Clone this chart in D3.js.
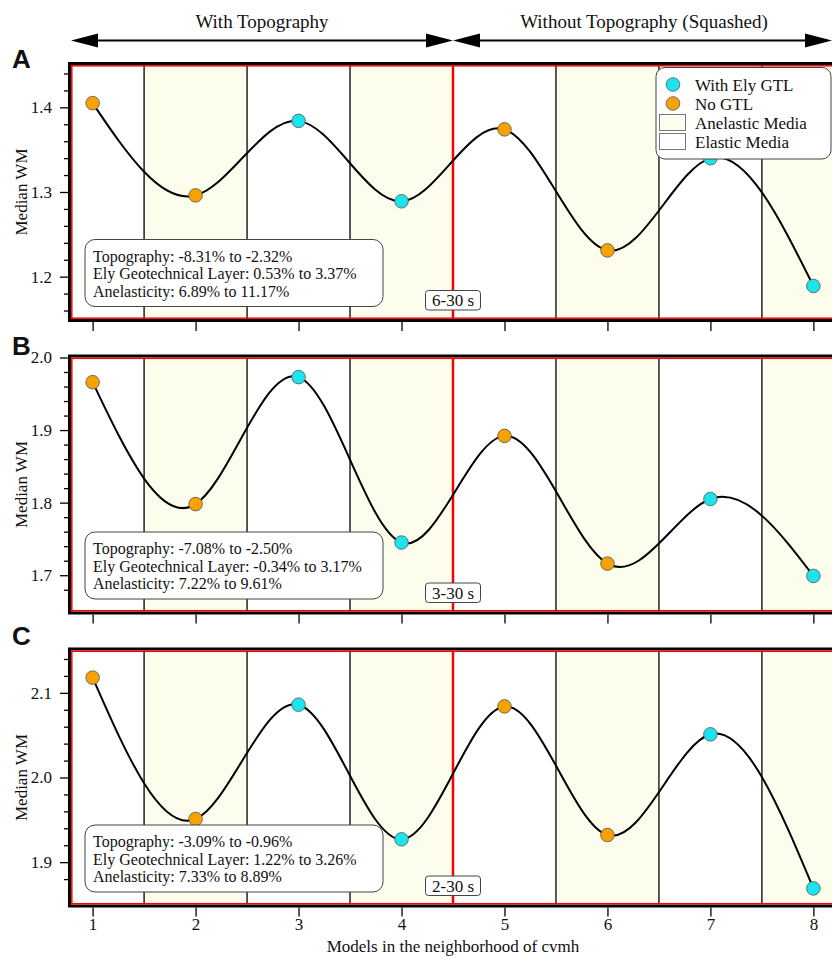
<!DOCTYPE html>
<html>
<head>
<meta charset="utf-8">
<script src="https://cdn.jsdelivr.net/npm/d3@7"></script>
<style>
body { margin: 0; background: #fff; }
svg { display: block; }
text { font-family: "Liberation Serif", "Times New Roman", serif; fill: #111; }
</style>
</head>
<body>
<div id="chart"></div>
<script>
// data
const models = [1, 2, 3, 4, 5, 6, 7, 8];
const gtlGroup = ["No GTL", "No GTL", "With Ely GTL", "With Ely GTL", "No GTL", "No GTL", "With Ely GTL", "With Ely GTL"];
const wmA = [1.405, 1.296, 1.384, 1.289, 1.374, 1.231, 1.340, 1.189];
const wmB = [1.966, 1.798, 1.973, 1.745, 1.892, 1.716, 1.805, 1.699];
const wmC = [2.118, 1.951, 2.086, 1.927, 2.084, 1.932, 2.051, 1.869];
const panelLetters = ["A", "B", "C"];
const periodLabels = ["6-30 s", "3-30 s", "2-30 s"];
const yDomains = [[1.15, 1.45], [1.65, 2.0], [1.85, 2.15]];
const yMajorTicks = [[1.2, 1.3, 1.4], [1.7, 1.8, 1.9, 2.0], [1.9, 2.0, 2.1]];
const topoText = ["Topography: -8.31% to -2.32%", "Topography: -7.08% to -2.50%", "Topography: -3.09% to -0.96%"];
const gtlText = ["Ely Geotechnical Layer: 0.53% to 3.37%", "Ely Geotechnical Layer: -0.34% to 3.17%", "Ely Geotechnical Layer: 1.22% to 3.26%"];
const anelText = ["Anelasticity: 6.89% to 11.17%", "Anelasticity: 7.22% to 9.61%", "Anelasticity: 7.33% to 8.89%"];
const boundaries = [1.5, 2.5, 3.5, 4.5, 5.5, 6.5, 7.5];
const anelasticBands = [[1.5, 2.5], [3.5, 4.5], [5.5, 6.5], [7.5, 8.5]];
const sectionTitles = ["With Topography", "Without Topography (Squashed)"];
const legendItems = ["With Ely GTL", "No GTL", "Anelastic Media", "Elastic Media"];

const width = 832, height = 958;
const colors = {"With Ely GTL": "#1ce3ec", "No GTL": "#f6a203"};
const bandFill = "#fdfdee";

const svg = d3.select("#chart").append("svg")
    .attr("width", width)
    .attr("height", height);

const x = d3.scaleLinear().domain([0.79, 8.21]).range([71, 835]);
const plotLeft = x(0.79), plotRight = x(8.21);
const panelTops = [65, 357.5, 650.5];
const panelH = 254;
const letterY = [68, 355, 645];
const series = [wmA, wmB, wmC];

// top arrows + titles
function arrow(x0, x1, yy) {
    svg.append("line")
        .attr("x1", x0 + 20).attr("x2", x1 - 20)
        .attr("y1", yy).attr("y2", yy)
        .attr("stroke", "#000").attr("stroke-width", 2);
    svg.append("path")
        .attr("d", `M${x0},${yy} L${x0 + 27},${yy - 7} L${x0 + 27},${yy + 7} Z`)
        .attr("fill", "#000");
    svg.append("path")
        .attr("d", `M${x1},${yy} L${x1 - 27},${yy - 7} L${x1 - 27},${yy + 7} Z`)
        .attr("fill", "#000");
}
arrow(x(0.79), x(4.5), 40.5);
arrow(x(4.5), 832, 40.5);
svg.append("text").attr("x", (x(0.79) + x(4.5)) / 2).attr("y", 28)
    .attr("text-anchor", "middle").style("font-size", "19px").text(sectionTitles[0]);
svg.append("text").attr("x", (x(4.5) + x(8.21)) / 2).attr("y", 28)
    .attr("text-anchor", "middle").style("font-size", "19px").text(sectionTitles[1]);

series.forEach((vals, i) => {
    const top = panelTops[i];
    const g = svg.append("g").attr("transform", "translate(0," + top + ")");
    const y = d3.scaleLinear().domain(yDomains[i]).range([panelH, 0]);

    g.append("clipPath").attr("id", "clip" + i)
        .append("rect").attr("x", plotLeft).attr("y", 0)
        .attr("width", plotRight - plotLeft).attr("height", panelH);

    const inner = g.append("g").attr("clip-path", "url(#clip" + i + ")");

    inner.selectAll("rect.band")
        .data(anelasticBands)
        .enter().append("rect")
        .attr("class", "band")
        .attr("x", d => x(d[0]))
        .attr("y", 0)
        .attr("width", d => x(d[1]) - x(d[0]))
        .attr("height", panelH)
        .attr("fill", bandFill);

    inner.selectAll("line.sep")
        .data(boundaries)
        .enter().append("line")
        .attr("class", "sep")
        .attr("x1", d => x(d)).attr("x2", d => x(d))
        .attr("y1", 0).attr("y2", panelH)
        .attr("stroke", d => d === 4.5 ? "#ff0000" : "#222")
        .attr("stroke-width", d => d === 4.5 ? 2.5 : 1.5);

    // text boxes
    g.append("rect")
        .attr("x", 85).attr("y", panelH - 79.5)
        .attr("width", 298).attr("height", 67)
        .attr("rx", 10)
        .attr("fill", "#fff").attr("stroke", "#444").attr("stroke-width", 1);
    [topoText[i], gtlText[i], anelText[i]].forEach((t, k) => {
        g.append("text").attr("x", 93).attr("y", panelH - 57.5 + k * 17.5)
            .style("font-size", "16px").text(t);
    });

    g.append("rect")
        .attr("x", x(4.5) - 27.5).attr("y", panelH - 28.5)
        .attr("width", 55).attr("height", 19.5)
        .attr("rx", 3)
        .attr("fill", "#fff").attr("stroke", "#444").attr("stroke-width", 1);
    g.append("text").attr("x", x(4.5)).attr("y", panelH - 13)
        .attr("text-anchor", "middle").style("font-size", "17px").text(periodLabels[i]);

    // curve
    const line = d3.line()
        .x((d, k) => x(models[k]))
        .y(d => y(d))
        .curve(d3.curveNatural);
    inner.append("path")
        .datum(vals)
        .attr("d", line)
        .attr("fill", "none")
        .attr("stroke", "#000")
        .attr("stroke-width", 2);

    inner.selectAll("circle.pt")
        .data(vals)
        .enter().append("circle")
        .attr("class", "pt")
        .attr("cx", (d, k) => x(models[k]))
        .attr("cy", d => y(d))
        .attr("r", 6.8)
        .attr("fill", (d, k) => colors[gtlGroup[k]])
        .attr("stroke", "#555")
        .attr("stroke-width", 0.8);

    // legend in the first panel
    if (i === 0) {
        const lg = g.append("g");
        lg.append("rect")
            .attr("x", 656).attr("y", 2.5)
            .attr("width", 175).attr("height", 91.5)
            .attr("rx", 9)
            .attr("fill", "#fff").attr("stroke", "#444").attr("stroke-width", 1);
        legendItems.forEach((name, k) => {
            const cy = 19.5 + k * 19;
            if (k < 2) {
                lg.append("circle").attr("cx", 673).attr("cy", cy).attr("r", 6.8)
                    .attr("fill", colors[name]).attr("stroke", "#555").attr("stroke-width", 0.8);
            } else {
                lg.append("rect").attr("x", 659.5).attr("y", cy - 8)
                    .attr("width", 26).attr("height", 16)
                    .attr("fill", k === 2 ? bandFill : "#fff")
                    .attr("stroke", "#777").attr("stroke-width", 1);
            }
            lg.append("text").attr("x", 695).attr("y", cy + 6)
                .style("font-size", "17px").text(name);
        });
    }

    // frame: black outer, red inner
    g.append("rect")
        .attr("x", plotLeft - 1.5).attr("y", -1.5)
        .attr("width", plotRight - plotLeft + 3).attr("height", panelH + 3)
        .attr("fill", "none").attr("stroke", "#000").attr("stroke-width", 3);
    g.append("rect")
        .attr("x", plotLeft + 0.8).attr("y", 0.8)
        .attr("width", plotRight - plotLeft - 1.6).attr("height", panelH - 1.6)
        .attr("fill", "none").attr("stroke", "#ff0000").attr("stroke-width", 1.5);

    // y axis
    const minor = d3.range(Math.round(yDomains[i][0] * 50) + 1, Math.round(yDomains[i][1] * 50))
        .map(v => v / 50)
        .filter(v => !yMajorTicks[i].some(m => Math.abs(m - v) < 1e-6));
    const yMinorAxis = g.append("g")
        .attr("transform", "translate(" + (plotLeft - 3) + ",0)")
        .call(d3.axisLeft(y).tickValues(minor).tickSize(4).tickFormat(""));
    const yMajorAxis = g.append("g")
        .attr("transform", "translate(" + (plotLeft - 3) + ",0)")
        .call(d3.axisLeft(y).tickValues(yMajorTicks[i]).tickSize(8).tickPadding(8).tickFormat(d3.format(".1f")));
    [yMinorAxis, yMajorAxis].forEach(a => {
        a.select(".domain").remove();
        a.selectAll("line").attr("stroke", "#000").attr("stroke-width", 1.3);
        a.selectAll("text")
            .style("font-family", "'Liberation Serif', serif")
            .style("font-size", "17px").attr("fill", "#111");
    });

    // x axis
    const xAxis = g.append("g")
        .attr("transform", "translate(0," + (panelH + 3) + ")")
        .call(d3.axisBottom(x).tickValues(models).tickSize(9).tickPadding(1)
            .tickFormat(i === 2 ? d3.format("d") : ""));
    xAxis.select(".domain").remove();
    xAxis.selectAll("line").attr("stroke", "#000").attr("stroke-width", 1.3);
    xAxis.selectAll("text")
        .style("font-family", "'Liberation Serif', serif")
        .style("font-size", "17px").attr("fill", "#111");

    // y label
    g.append("text")
        .attr("transform", "translate(27," + (panelH / 2) + ") rotate(-90)")
        .attr("text-anchor", "middle")
        .style("font-size", "17px")
        .text("Median WM");

    // panel letter
    svg.append("text")
        .attr("x", 12).attr("y", letterY[i])
        .style("font-family", "'Liberation Sans', Arial, sans-serif")
        .style("font-weight", "bold")
        .style("font-size", "26px")
        .text(panelLetters[i]);
});

svg.append("text")
    .attr("x", (plotLeft + plotRight) / 2)
    .attr("y", 952)
    .attr("text-anchor", "middle")
    .style("font-size", "17px")
    .text("Models in the neighborhood of cvmh");
</script>
</body>
</html>
